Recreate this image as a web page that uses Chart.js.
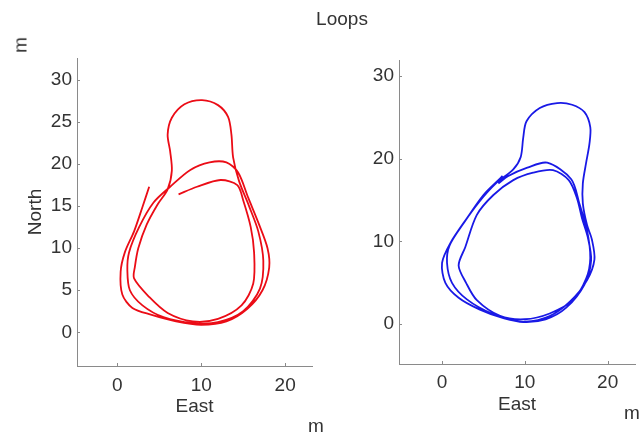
<!DOCTYPE html>
<html>
<head>
<meta charset="utf-8">
<script src="https://cdn.jsdelivr.net/npm/chart.js@4.4.0/dist/chart.umd.min.js"></script>
<style>
  body { margin: 0; width: 643px; height: 435px; background: #fff; position: relative; overflow: hidden;
         font-family: "Liberation Sans", Arial, sans-serif; color: #333; }
  canvas { position: absolute; top: 0; }
  #left { left: 0; }
  #right { left: 320px; }
  .lbl { position: absolute; font-size: 19px; line-height: 1; white-space: nowrap; transform: translate(-50%, -50%); }
</style>
</head>
<body>
<canvas id="left" width="320" height="435"></canvas>
<canvas id="right" width="323" height="435"></canvas>
<div class="lbl" style="left:342px; top:18px;">Loops</div>
<div class="lbl" style="left:20px; top:45px; transform: translate(-50%, -50%) rotate(-90deg);">m</div>
<div class="lbl" style="left:316px; top:425px;">m</div>
<div class="lbl" style="left:632px; top:412px;">m</div>
<script>
// red run (left panel), metres
const redEast = [3.8, 3.0, 2.0, 0.9, 0.4, 0.6, 1.8, 4.0, 7.0, 10.0, 13.0, 15.5, 17.3, 18.1, 17.9, 16.9, 15.6, 14.4, 13.0, 11.0,
  8.7, 6.3, 4.3, 2.6, 1.4, 1.2, 1.5, 3.0, 5.5, 9.0, 12.0, 15.0, 17.0, 17.4, 16.8, 15.7, 14.5, 13.8, 13.6, 13.2,
  12.0, 10.1, 8.0, 6.5, 6.0, 6.3, 6.5, 6.0, 4.8, 3.5, 2.5, 2.1, 2.0, 3.8, 6.0, 9.0, 12.0, 14.8, 16.2, 16.3,
  15.9, 15.0, 14.3, 12.3, 9.5, 7.3];
const redNorth = [17.3, 14.9, 12.0, 9.5, 7.2, 4.5, 2.9, 2.1, 1.3, 0.9, 1.3, 2.8, 5.0, 7.7, 10.0, 12.8, 16.0, 19.0, 20.2, 20.2,
  19.3, 17.3, 15.4, 12.5, 9.5, 7.4, 5.0, 3.2, 1.8, 1.1, 1.2, 2.5, 5.2, 8.5, 12.0, 15.0, 18.0, 20.8, 23.5, 25.6,
  27.0, 27.6, 27.1, 25.5, 23.5, 21.5, 19.2, 17.0, 15.2, 12.8, 10.0, 7.8, 6.4, 4.2, 2.3, 1.3, 1.6, 3.2, 5.8, 9.5,
  12.5, 15.7, 17.5, 18.1, 17.3, 16.4];

// blue run (right panel), metres
const blueEast = [7.3, 6.8, 5.0, 3.0, 1.0, 0.0, 0.4, 2.0, 4.5, 7.5, 10.0, 13.0, 15.5, 17.5, 18.4, 18.1, 17.5, 17.0, 17.0, 17.4,
  17.8, 17.9, 17.2, 15.7, 13.9, 11.8, 10.2, 9.8, 9.5, 8.6, 6.5, 4.5, 2.6, 0.9, 0.6, 1.2, 3.0, 6.0, 9.4, 12.5,
  15.0, 17.2, 18.0, 17.6, 16.9, 16.3, 15.3, 13.4, 11.0, 8.6, 6.2, 4.2, 2.8, 2.0, 2.9, 4.2, 7.0, 10.0, 13.0, 15.8,
  17.4, 17.9, 17.5, 16.6, 15.6, 12.7, 10.3, 8.0, 6.8];
const blueNorth = [17.9, 17.4, 15.6, 12.8, 9.8, 7.4, 5.0, 3.2, 1.8, 0.7, 0.3, 1.0, 2.8, 5.3, 7.8, 10.2, 12.0, 14.6, 17.0, 19.5,
  21.8, 23.8, 25.6, 26.5, 26.7, 26.1, 24.5, 22.5, 20.2, 18.7, 17.0, 14.8, 12.2, 9.5, 7.4, 5.0, 3.0, 1.3, 0.3, 0.6,
  2.0, 4.8, 7.7, 10.5, 12.8, 15.2, 17.4, 18.6, 18.3, 17.4, 15.6, 13.2, 9.3, 7.1, 5.0, 2.9, 1.0, 0.6, 1.3, 2.9,
  5.5, 8.0, 11.4, 14.5, 17.5, 19.5, 18.9, 17.9, 17.0];

const eastTicks = [0, 10, 20];
const leftNorthTicks = [0, 5, 10, 15, 20, 25, 30];
const rightNorthTicks = [0, 10, 20, 30];

const axisGrey = '#8a8a8a';
const textGrey = '#333';
const tickFont = { family: '"Liberation Sans", Arial, sans-serif', size: 19 };

// MATLAB style ticks pointing into the plot
const innerTicks = {
  id: 'innerTicks',
  afterDraw(chart) {
    const { ctx, chartArea, scales } = chart;
    ctx.save();
    ctx.strokeStyle = axisGrey;
    ctx.lineWidth = 1;
    scales.x.ticks.forEach(t => {
      const px = Math.round(scales.x.getPixelForValue(t.value)) + 0.5;
      ctx.beginPath();
      ctx.moveTo(px, chartArea.bottom);
      ctx.lineTo(px, chartArea.bottom - 3);
      ctx.stroke();
    });
    scales.y.ticks.forEach(t => {
      const py = Math.round(scales.y.getPixelForValue(t.value)) + 0.5;
      ctx.beginPath();
      ctx.moveTo(chartArea.left, py);
      ctx.lineTo(chartArea.left + 3, py);
      ctx.stroke();
    });
    ctx.restore();
  }
};

function toPoints(xs, ys) {
  return xs.map((x, i) => ({ x: x, y: ys[i] }));
}

function drawLoops(id, cfg) {
  new Chart(document.getElementById(id), {
    type: 'scatter',
    data: {
      datasets: [{
        data: toPoints(cfg.east, cfg.north),
        showLine: true,
        borderColor: cfg.color,
        borderWidth: 1.8,
        pointRadius: 0,
        tension: 0.3
      }]
    },
    options: {
      responsive: false,
      animation: false,
      layout: { padding: { top: cfg.top, right: 8, bottom: 0, left: 0 } },
      plugins: { legend: { display: false }, tooltip: { enabled: false } },
      scales: {
        x: {
          min: cfg.xMin, max: cfg.xMax,
          afterBuildTicks: s => { s.ticks = eastTicks.map(v => ({ value: v })); },
          afterFit: s => { s.height = cfg.xHeight; },
          grid: { display: true, drawOnChartArea: false, drawTicks: false },
          border: { display: true, color: axisGrey, width: 1 },
          ticks: { color: textGrey, font: tickFont, padding: cfg.xPad, maxRotation: 0 },
          title: { display: true, text: 'East', color: textGrey, font: tickFont, padding: { top: 0, bottom: cfg.eastPad } }
        },
        y: {
          min: cfg.yMin, max: cfg.yMax,
          afterBuildTicks: s => { s.ticks = cfg.yTicks.map(v => ({ value: v })); },
          afterFit: s => { s.width = cfg.yWidth; },
          grid: { display: true, drawOnChartArea: false, drawTicks: false },
          border: { display: true, color: axisGrey, width: 1 },
          ticks: { color: textGrey, font: tickFont, padding: 5 },
          title: { display: cfg.showNorth, text: 'North', color: textGrey, font: tickFont, padding: { top: 24, bottom: 0 } }
        }
      }
    },
    plugins: [innerTicks]
  });
}

drawLoops('left', {
  east: redEast, north: redNorth, color: 'rgb(235,12,22)',
  xMin: -4.8, xMax: 23.2, yMin: -4, yMax: 32.6, yTicks: leftNorthTicks,
  top: 58, xHeight: 69, yWidth: 77, xPad: 8, eastPad: 17, showNorth: true
});

drawLoops('right', {
  east: blueEast, north: blueNorth, color: 'rgb(25,25,230)',
  xMin: -5.2, xMax: 23.3, yMin: -4.8, yMax: 31.9, yTicks: rightNorthTicks,
  top: 60, xHeight: 71, yWidth: 79, xPad: 7, eastPad: 19, showNorth: false
});
</script>
</body>
</html>
